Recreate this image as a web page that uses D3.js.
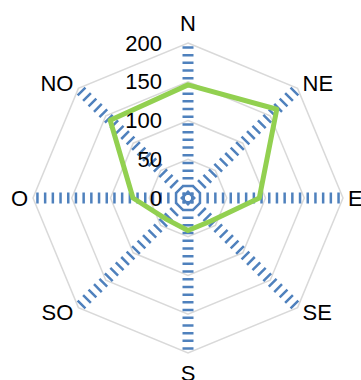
<!DOCTYPE html>
<html>
<head>
<meta charset="utf-8">
<script src="https://cdn.jsdelivr.net/npm/d3@7"></script>
<style>
  html, body { margin: 0; padding: 0; background: #fff; overflow: hidden; }
  svg { display: block; }
  text { font-family: "Liberation Sans", Arial, sans-serif; fill: #000; }
</style>
</head>
<body>
<svg id="chart" width="361" height="380"></svg>
<script>
// Wind directions (clockwise from north) and frequency per direction
const directions = ["N", "NE", "E", "SE", "S", "SO", "O", "NO"];
const values = [146, 162, 92, 42, 42, 39, 71, 142];
const ringTicks = [0, 50, 100, 150, 200];

const width = 361, height = 380;
const cx = 188, cy = 198, radius = 155;

const svg = d3.select("#chart");
const g = svg.append("g").attr("transform", `translate(${cx},${cy})`);

const r = d3.scaleLinear().domain([0, 200]).range([0, radius]);
const angle = d3.scaleBand().domain(directions).range([0, 2 * Math.PI]).align(0).paddingInner(0).paddingOuter(0);
const a = d => angle(d); // radians, clockwise from top

const px = (dir, rad) => rad * Math.sin(a(dir));
const py = (dir, rad) => -rad * Math.cos(a(dir));

// Octagonal grid rings
const ring = d3.lineRadial()
  .angle(d => a(d.dir))
  .radius(d => r(d.v))
  .curve(d3.curveLinearClosed);

g.selectAll("path.ring")
  .data(ringTicks.filter(t => t > 0))
  .join("path")
  .attr("class", "ring")
  .attr("d", t => ring(directions.map(dir => ({ dir, v: t }))))
  .attr("fill", "none")
  .attr("stroke", "#d9d9d9")
  .attr("stroke-width", 1.5);

// Dotted spokes
g.selectAll("line.spoke")
  .data(directions)
  .join("line")
  .attr("class", "spoke")
  .attr("x1", 0).attr("y1", 0)
  .attr("x2", d => px(d, r(200)))
  .attr("y2", d => py(d, r(200)))
  .attr("stroke", "#4f81bd")
  .attr("stroke-width", 11)
  .attr("stroke-dasharray", "2.5,5.2")
  .attr("stroke-dashoffset", -3);

// Data series
const series = d3.lineRadial()
  .angle((d, i) => a(directions[i]))
  .radius(d => r(d))
  .curve(d3.curveLinearClosed);

g.append("path")
  .attr("d", series(values))
  .attr("fill", "none")
  .attr("stroke", "#92d050")
  .attr("stroke-width", 5)
  .attr("stroke-linejoin", "round");

// Ring value labels along the north spoke
g.selectAll("text.tick")
  .data(ringTicks)
  .join("text")
  .attr("class", "tick")
  .attr("x", -26)
  .attr("y", t => -r(t))
  .attr("dy", "0.35em")
  .attr("text-anchor", "end")
  .attr("font-size", 22)
  .text(t => t);

// Direction labels
const labelOffset = 12;
g.selectAll("text.dir")
  .data(directions)
  .join("text")
  .attr("class", "dir")
  .attr("font-size", 22)
  .attr("x", d => {
    const s = Math.sin(a(d));
    return px(d, radius) + (Math.abs(s) < 0.01 ? 0 : Math.sign(s) * 5);
  })
  .attr("y", d => {
    const c = Math.cos(a(d));
    if (Math.abs(c) > 0.99) return py(d, radius) + (c > 0 ? -labelOffset : labelOffset + 16);
    if (Math.abs(c) < 0.01) return py(d, radius) + 8;
    return py(d, radius) + (c > 0 ? 3 : 12);
  })
  .attr("text-anchor", d => {
    const s = Math.sin(a(d));
    return Math.abs(s) < 0.01 ? "middle" : (s > 0 ? "start" : "end");
  })
  .text(d => d);
</script>
</body>
</html>
